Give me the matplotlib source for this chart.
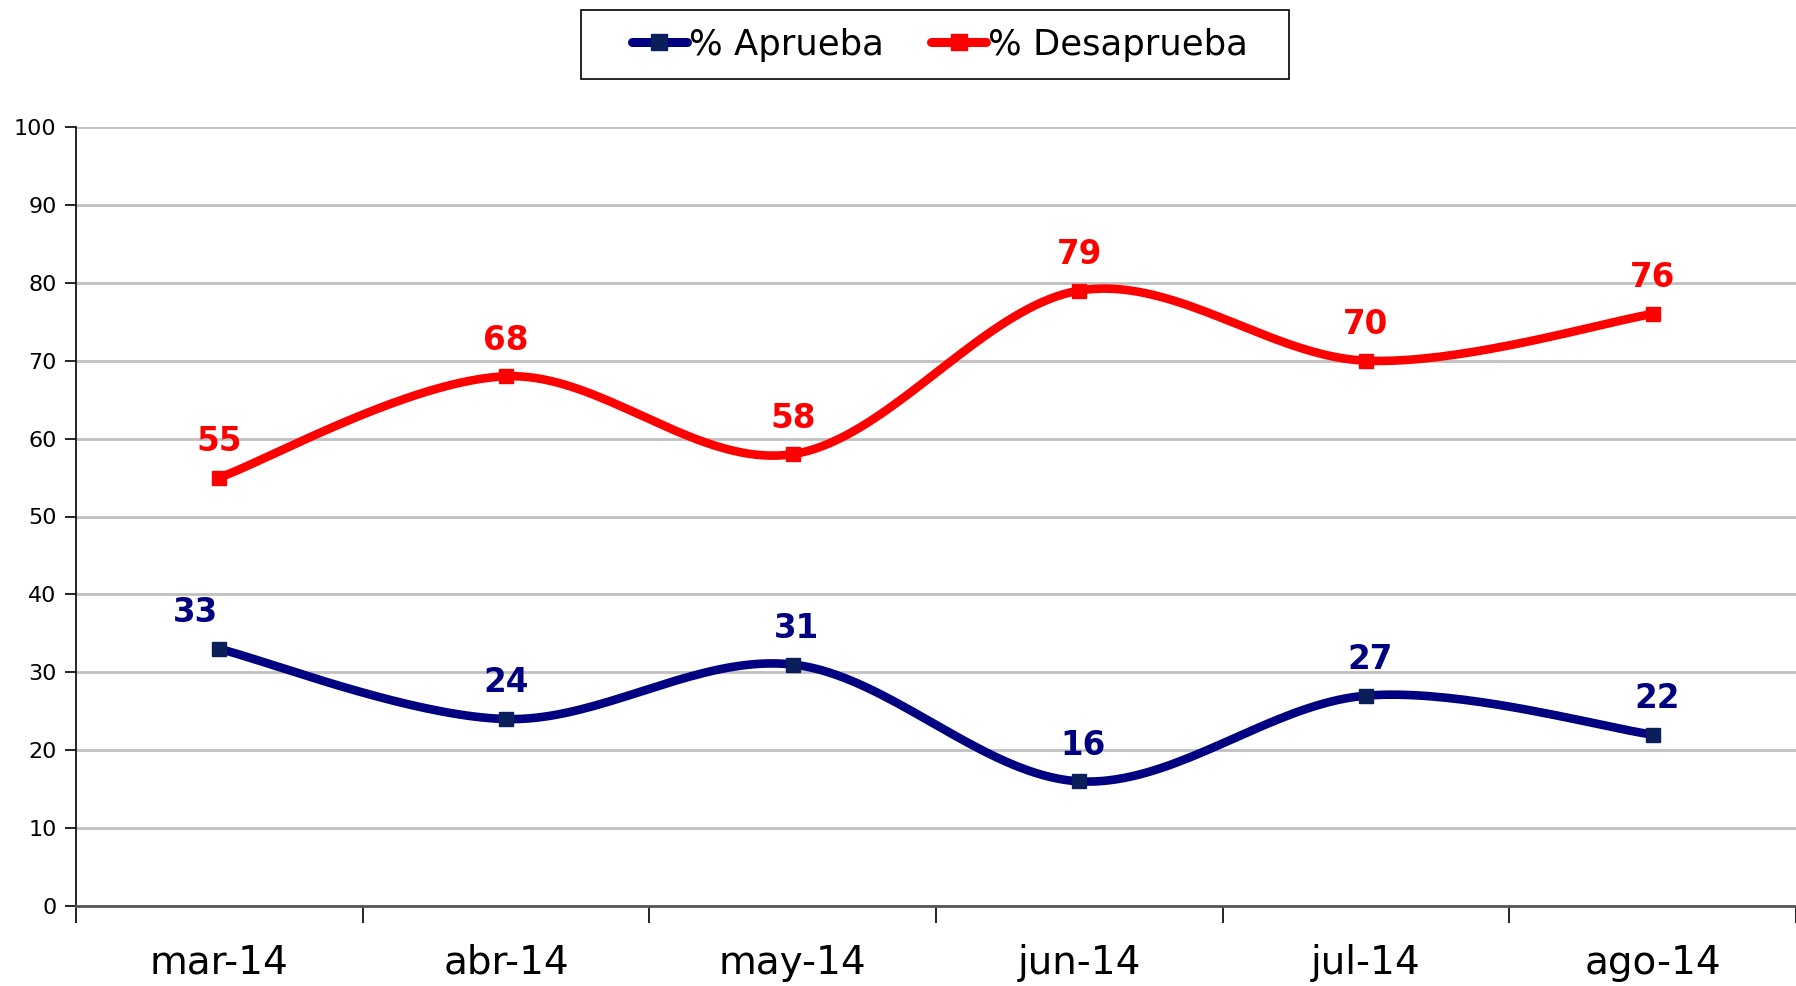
import numpy as np
import matplotlib
matplotlib.use("Agg")
import matplotlib.pyplot as plt
from matplotlib.patches import Rectangle

months = ["mar-14", "abr-14", "may-14", "jun-14", "jul-14", "ago-14"]
aprueba = [33, 24, 31, 16, 27, 22]
desaprueba = [55, 68, 58, 79, 70, 76]
aprueba_label_dx = [-17, 0, 3, 3, 3, 3]
desaprueba_label_dx = [0, 0, 0, 0, 0, 0]

plt.rcParams['font.family'] = ['DejaVu Sans']

def smooth(xs, ys, n=40):
    xs = np.asarray(xs, float); ys = np.asarray(ys, float)
    P = np.column_stack([xs, ys])
    out = []
    for i in range(len(P) - 1):
        p0 = P[i - 1] if i > 0 else P[i]
        p1 = P[i]; p2 = P[i + 1]
        p3 = P[i + 2] if i + 2 < len(P) else P[i + 1]
        c1 = p1 + (p2 - p0) / 6.0
        c2 = p2 - (p3 - p1) / 6.0
        t = np.linspace(0, 1, n)[:, None]
        seg = (1 - t) ** 3 * p1 + 3 * (1 - t) ** 2 * t * c1 + 3 * (1 - t) * t ** 2 * c2 + t ** 3 * p2
        out.append(seg if i == 0 else seg[1:])
    s = np.vstack(out)
    return s[:, 0], s[:, 1]

fig = plt.figure(figsize=(17.96, 9.86), dpi=100)
ax = fig.add_axes([76 / 1796, 80 / 986, 1 - 76 / 1796, (906 - 127) / 986])

x = np.arange(len(months))
navy = "#000080"
red = "#FF0000"

for vals, col, lab, dxs in [(aprueba, navy, "% Aprueba", aprueba_label_dx),
                             (desaprueba, red, "% Desaprueba", desaprueba_label_dx)]:
    sx, sy = smooth(x, vals)
    ax.plot(sx, sy, color=col, lw=6.2, solid_capstyle='round', zorder=3)
    mcol = "#0A1E5A" if col == navy else col
    ax.plot(x, vals, linestyle='none', marker='s', markersize=10, color=mcol, zorder=4)
    ax.plot([], [], color=col, lw=6.5, marker='s', markersize=11, markerfacecolor=mcol,
            markeredgecolor=mcol, solid_capstyle='round', label=lab)
    for xi, v, dx in zip(x, vals, dxs):
        ax.annotate(str(v), (xi, v), xytext=(dx, 26), textcoords='offset points',
                    ha='center', va='center', fontsize=23.5, fontweight='bold', color=col,
                    zorder=5)

ax.set_xlim(-0.5, len(months) - 0.5)
ax.set_ylim(0, 100)
ax.set_yticks(np.arange(0, 101, 10))
ax.set_xticks(x)
ax.set_xticklabels(months, fontsize=28)
ax.set_xticks(np.arange(-0.5, len(months), 1), minor=True)
ax.tick_params(axis='x', which='major', length=0, pad=27)
ax.tick_params(axis='x', which='minor', length=12, width=1.2, color='black')
ax.tick_params(axis='y', labelsize=16, length=8, width=1.2, pad=6)
ax.grid(axis='y', color='#C0C0C0', lw=2)
ax.set_axisbelow(True)
for s in ['top', 'right']:
    ax.spines[s].set_visible(False)
ax.spines['left'].set_color('black')
ax.spines['left'].set_linewidth(1.2)
ax.spines['bottom'].set_color('#555555')
ax.spines['bottom'].set_linewidth(2)

leg = fig.legend(loc='center', bbox_to_anchor=(940 / 1796, 1 - 44.5 / 986), ncol=2,
                 fontsize=25.5, frameon=False, handlelength=1.55,
                 handletextpad=0.05, columnspacing=1.35, borderpad=0.3, borderaxespad=0)
fig.patches.append(Rectangle((581 / 1796, 1 - 79 / 986), (1289 - 581) / 1796, 69 / 986,
                             transform=fig.transFigure, facecolor='none',
                             edgecolor='black', lw=1.2))

fig.savefig("out.png", dpi=100)
